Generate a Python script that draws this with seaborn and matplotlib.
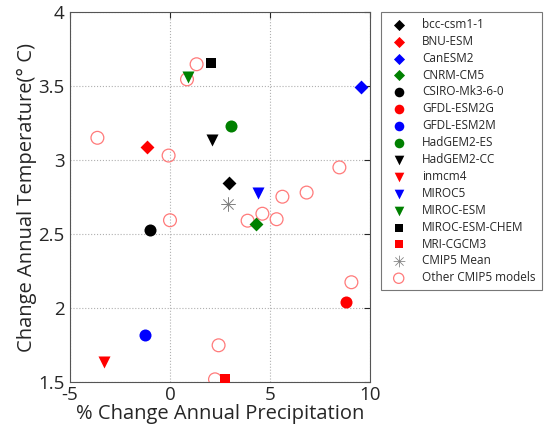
import matplotlib
matplotlib.use("Agg")
import matplotlib.pyplot as plt
import seaborn as sns
import pandas as pd

sns.set_style("white")
plt.rcParams['font.family'] = ['Open Sans', 'DejaVu Sans']

models = ["bcc-csm1-1", "BNU-ESM", "CanESM2", "CNRM-CM5", "CSIRO-Mk3-6-0",
          "GFDL-ESM2G", "GFDL-ESM2M", "HadGEM2-ES", "HadGEM2-CC", "inmcm4",
          "MIROC5", "MIROC-ESM", "MIROC-ESM-CHEM", "MRI-CGCM3", "CMIP5 Mean"]
precip = [2.95, -1.13, 9.55, 4.32, -1.02, 8.8, -1.25, 3.07, 2.12, -3.3,
          4.4, 0.88, 2.05, 2.77, 2.9]
temp = [2.845, 3.09, 3.49, 2.57, 2.53, 2.04, 1.82, 3.23, 3.135, 1.637,
        2.775, 3.563, 3.653, 1.518, 2.703]
colors = ["black", "red", "blue", "green", "black", "red", "blue", "green",
          "black", "red", "blue", "green", "black", "red", "gray"]
markers = ["D", "D", "D", "D", "o", "o", "o", "o", "v", "v", "v", "v",
           "s", "s", "*"]

other_precip = [1.33, 0.85, -3.63, -0.07, 8.47, 5.62, 6.83, 0.0, 3.88, 4.62,
                5.33, 9.07, 2.43, 2.25]
other_temp = [3.647, 3.545, 3.15, 3.03, 2.95, 2.752, 2.78, 2.593, 2.59, 2.637,
              2.60, 2.174, 1.748, 1.518]

fig = plt.figure(figsize=(5.47, 4.41), dpi=100)
ax = fig.add_axes([70/547, 1-382/441, 300/547, 370/441])

sizes = {"D": 50, "o": 75, "v": 75, "s": 50}
for m, x, y, c, mk in zip(models, precip, temp, colors, markers):
    if mk == "*":
        sns.scatterplot(x=[x], y=[y], ax=ax, marker="$\u2733$", color=c,
                        s=110, linewidth=0, label=m, zorder=4)
    else:
        sns.scatterplot(x=[x], y=[y], ax=ax, marker=mk, color=c,
                        s=sizes[mk], linewidth=0, label=m, zorder=4)

df_other = pd.DataFrame({"p": other_precip, "t": other_temp})
sns.scatterplot(data=df_other, x="p", y="t", ax=ax, marker="o", s=85,
                facecolors="none", edgecolor="#ff7a7a", linewidth=0.9,
                label="Other CMIP5 models", zorder=3)

ax.set_xlim(-5, 10)
ax.set_ylim(1.5, 4)
ax.set_xticks([-5, 0, 5, 10])
ax.set_yticks([1.5, 2, 2.5, 3, 3.5, 4])
ax.set_xticklabels(["-5", "0", "5", "10"])
ax.set_yticklabels(["1.5", "2", "2.5", "3", "3.5", "4"])
ax.grid(True, color="#b0b0b0", linestyle=":", linewidth=0.8)
ax.tick_params(axis="x", direction="in", labelsize=13.5, length=4,
               top=True, pad=3)
ax.tick_params(axis="y", direction="in", labelsize=13.5, length=4,
               right=True, pad=4)
for sp in ax.spines.values():
    sp.set_color("#555555")
    sp.set_linewidth(0.8)
ax.set_xlabel("% Change Annual Precipitation", fontsize=14.5, labelpad=0)
ax.set_ylabel("Change Annual Temperature(\u00b0 C)", fontsize=14.5, labelpad=1)

leg = ax.legend(loc="upper left", bbox_to_anchor=(381/547, 1-12/441),
                bbox_transform=fig.transFigure, fontsize=8.5, frameon=True,
                fancybox=False, edgecolor="#555555", borderaxespad=0,
                handletextpad=1.0, labelspacing=0.33, borderpad=0.5,
                markerscale=0.8)
leg.get_frame().set_linewidth(0.8)

fig.savefig("out.png", dpi=100)
